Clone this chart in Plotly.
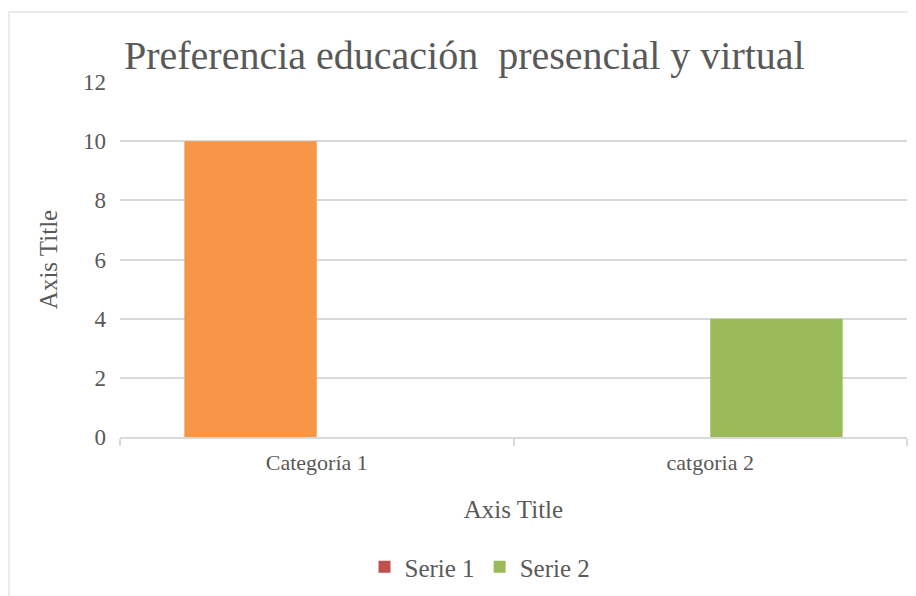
import plotly.graph_objects as go

# Data
categories_s1 = ["catgoria 2", "Categoría 1"]
serie1_values = [0, 10]
serie1_colors = ["#C0504D", "#F79646"]
categories_s2 = ["Categoría 1", "catgoria 2"]
serie2_values = [0, 4]
category_order = ["Categoría 1", "catgoria 2"]
y_ticks = [0, 2, 4, 6, 8, 10, 12]

TXT = "#595959"
GRID = "#D9D9D9"
FONT = "Liberation Serif"

fig = go.Figure()
fig.add_trace(go.Bar(name="Serie 1", x=categories_s1, y=serie1_values,
                     marker=dict(color=serie1_colors, line=dict(width=0))))
fig.add_trace(go.Bar(name="Serie 2", x=categories_s2, y=serie2_values,
                     marker=dict(color="#9BBB59", line=dict(width=0))))

# page has an 8px body margin, so the figure is 8px smaller than the window
W, H = 908, 588
L, R, T, B = 112, 9, 74, 159
pw, ph = W - L - R, H - T - B

fig.update_layout(
    width=W, height=H,
    margin=dict(l=L, r=R, t=T, b=B, autoexpand=False),
    paper_bgcolor="white", plot_bgcolor="white",
    barmode="group", bargap=0.327, bargroupgap=0,
    font=dict(family=FONT, color=TXT, size=22),
    title=dict(text="Preferencia educación  presencial y virtual",
               font=dict(family=FONT, size=40, color=TXT),
               xref="paper", x=0.005, xanchor="left",
               yref="container", y=1 - 47 / H, yanchor="middle"),
    xaxis=dict(type="category", categoryorder="array", categoryarray=category_order,
               showline=True, linecolor=GRID, linewidth=1.5,
               ticks="outside", ticklen=7, tickcolor=GRID, tickwidth=1.5,
               tickson="boundaries", showgrid=False,
               tickfont=dict(size=22, color=TXT, family=FONT),
               ticklabelstandoff=5,
               title=dict(text="Axis Title", font=dict(size=25, color=TXT, family=FONT),
                          standoff=26),
               automargin=False),
    yaxis=dict(range=[0, 12], tickvals=y_ticks, showgrid=True, gridcolor=GRID,
               gridwidth=1.5, zeroline=False, showline=False, ticks="",
               tickfont=dict(size=23, color=TXT, family=FONT),
               ticklabelstandoff=13,
               title=dict(text="Axis Title", font=dict(size=25, color=TXT, family=FONT),
                          standoff=18),
               automargin=False),
    legend=dict(orientation="h", xref="container", x=472 / W, xanchor="center",
                yref="container", y=1 - 559 / H, yanchor="middle",
                font=dict(size=25, color=TXT, family=FONT),
                itemwidth=30, tracegroupgap=0),
    showlegend=True,
    shapes=[dict(type="rect", xref="paper", yref="paper",
                 x0=(1 - L) / pw, x1=1.5, y0=-1.0, y1=(H - B - 4) / ph,
                 line=dict(color="#E6E6E6", width=1.5), fillcolor="rgba(0,0,0,0)",
                 layer="below")],
)

fig.write_html("out.html")
